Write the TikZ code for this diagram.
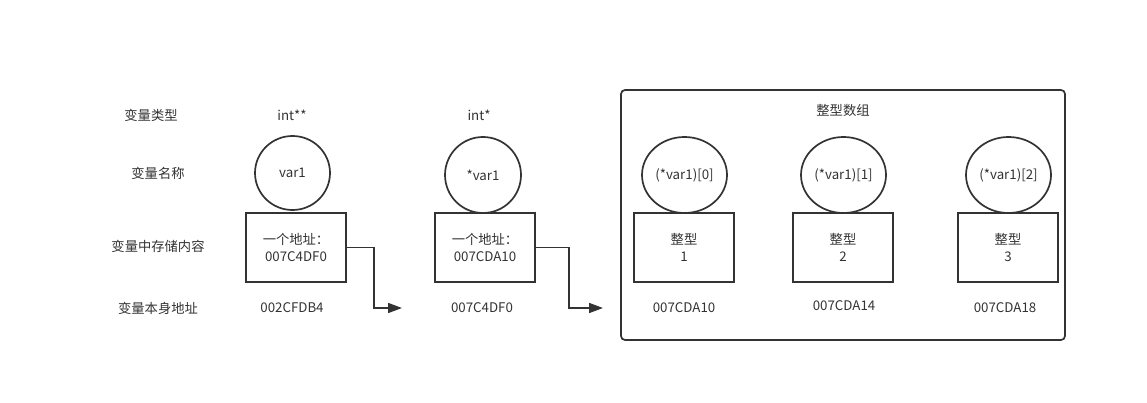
\documentclass[tikz,border=0pt]{standalone}
\usepackage{fontspec}
\setmainfont{Noto Sans CJK SC}
\usetikzlibrary{arrows.meta,shapes.geometric}
\definecolor{ink}{HTML}{333333}
\begin{document}
\begin{tikzpicture}[x=1pt,y=-1pt,
  lbl/.style={font=\fontsize{13.3}{15}\selectfont, text=ink, inner sep=0pt},
  cell/.style={draw=ink, line width=1.7pt, minimum width=100pt, minimum height=69pt, inner sep=0pt, align=center, font=\fontsize{13.3}{16.5}\selectfont, text=ink},
  bub/.style={draw=ink, line width=1.7pt, ellipse, inner sep=0pt, font=\fontsize{13.3}{15}\selectfont, text=ink},
  link/.style={draw=ink, line width=1.7pt, -{Triangle[length=14pt,width=10pt]}}
]
\useasboundingbox (0,0) rectangle (1147,403);
% row labels
\node[lbl] (r1) at (151,115) {变量类型};
\node[lbl] (r2) at (158,173) {变量名称};
\node[lbl] (r3) at (158,246) {变量中存储内容};
\node[lbl] (r4) at (158,308) {变量本身地址};
% column 1
\node[lbl] (t1) at (292,115) {int**};
\node[bub, minimum width=75pt, minimum height=74pt] (c1) at (292.5,173) {var1};
\node[cell] (b1) at (296,247.5) {一个地址：\\007C4DF0};
\node[lbl] (a1) at (292,308) {002CFDB4};
% column 2
\node[lbl] (t2) at (479,115) {int*};
\node[bub, minimum width=76pt, minimum height=76pt] (c2) at (483,175) {*var1};
\node[cell] (b2) at (485,247.5) {一个地址：\\007CDA10};
\node[lbl] (a2) at (482,308) {007C4DF0};
% connectors
\coordinate (e1) at (402,308);
\coordinate (e2) at (603,308);
\draw[link] (b1.east) -- (374,247.5) |- (e1);
\draw[link] (b2.east) -- (569,247.5) |- (e2);
% array group
\draw[draw=ink, line width=1.7pt, rounded corners=4pt] (621,90) rectangle (1065,340);
\node[lbl] (g) at (843,110) {整型数组};
\node[bub, minimum width=85pt, minimum height=76pt] (d0) at (684.5,175) {(*var1)[0]};
\node[bub, minimum width=85pt, minimum height=76pt] (d1) at (843.5,175) {(*var1)[1]};
\node[bub, minimum width=85pt, minimum height=76pt] (d2) at (1008.5,175) {(*var1)[2]};
\node[cell] (e0b) at (684,247.5) {整型\\1};
\node[cell] (e1b) at (843,247.5) {整型\\2};
\node[cell] (e2b) at (1008,247.5) {整型\\3};
\node[lbl] (ad0) at (684,308) {007CDA10};
\node[lbl] (ad1) at (844,306) {007CDA14};
\node[lbl] (ad2) at (1005,308) {007CDA18};
\end{tikzpicture}
\end{document}
